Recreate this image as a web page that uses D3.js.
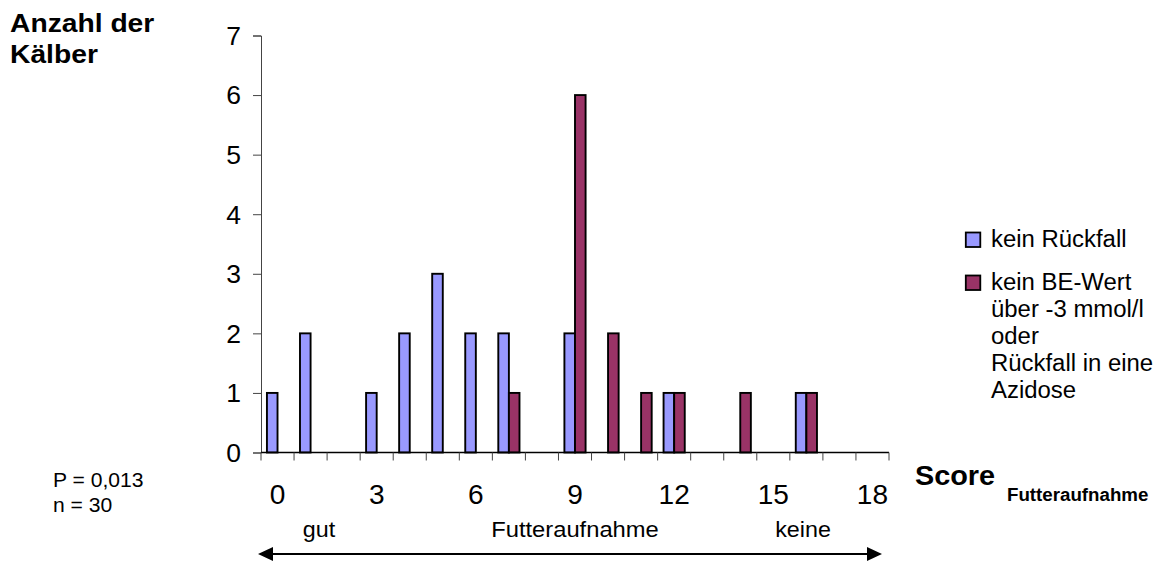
<!DOCTYPE html>
<html><head><meta charset="utf-8">
<script src="https://cdn.jsdelivr.net/npm/d3@7"></script>
<style>body{margin:0;background:#fff;} svg{display:block;font-family:Arial,"Liberation Sans",sans-serif;}</style>
</head><body>
<svg id="c" width="1160" height="562"></svg>
<script>
const categories = d3.range(0, 19); // score 0..18
const xTickLabels = ["0","3","6","9","12","15","18"];
const yTicks = [0,1,2,3,4,5,6,7];
const seriesNames = ["kein Rückfall", "kein BE-Wert\nüber -3 mmol/l\noder\nRückfall in eine\nAzidose"];
const keinRueckfall = [1,2,0,1,2,3,2,2,0,2,0,0,1,0,0,0,1,0,0];
const keinBEWert    = [0,0,0,0,0,0,0,1,0,6,2,1,1,0,1,0,1,0,0];
const colors = ["#9999FF", "#993366"];

const svg = d3.select("#c");
function txt(parent, x, y, s, size, opts = {}) {
  const g = parent.append("g").attr("transform", `translate(${x},${y}) scale(${opts.sx || 1},1)`);
  return g.append("text").attr("x", 0).attr("y", 0)
    .attr("font-size", size).attr("font-weight", opts.weight || "normal")
    .attr("text-anchor", opts.anchor || "start").attr("fill", "#000").text(s);
}

const x = d3.scaleBand().domain(categories).range([261, 889]).padding(0);
const xs = d3.scaleBand().domain([0,1]).range([0, x.bandwidth()]).paddingInner(0).paddingOuter(0.56);
const y = d3.scaleLinear().domain([0, 7]).range([452.5, 35.5]);

// bars
const seriesData = [keinRueckfall, keinBEWert];
seriesData.forEach((vals, si) => {
  svg.append("g").selectAll("rect").data(categories.filter(c => vals[c] > 0)).join("rect")
    .attr("x", c => x(c) + xs(si))
    .attr("y", c => y(vals[c]))
    .attr("width", xs.bandwidth())
    .attr("height", c => y(0) - y(vals[c]))
    .attr("fill", colors[si]).attr("stroke", "#000").attr("stroke-width", 1.9);
});

// y axis
const ya = svg.append("g").attr("transform", `translate(261,0)`)
  .call(d3.axisLeft(y).tickValues(yTicks).tickSize(8).tickFormat(""));
ya.select(".domain").attr("stroke", "#444").attr("stroke-width", 1);
ya.selectAll(".tick line").attr("stroke", "#444");
yTicks.forEach(v => {
  txt(svg, 241, y(v) + 9.3, String(v), 26, {anchor: "end", sx: 1.02});
});

// x axis
const boundaries = d3.range(0, 20).map(i => 261 + i * x.step());
const xg = svg.append("g");
xg.append("line").attr("x1", 261).attr("x2", 889).attr("y1", y(0)).attr("y2", y(0))
  .attr("stroke", "#000").attr("stroke-width", 1.4);
xg.selectAll("line.t").data(boundaries).join("line").attr("class", "t")
  .attr("x1", d => d).attr("x2", d => d).attr("y1", y(0)).attr("y2", y(0) + 8)
  .attr("stroke", "#444").attr("stroke-width", 1);
xTickLabels.forEach(l => {
  const c = +l;
  txt(svg, x(c) + x.bandwidth() / 2, 503.5, l, 27, {anchor: "middle", sx: 1.04});
});

// titles
txt(svg, 10, 31.5, "Anzahl der", 25, {weight: "bold", sx: 1.13});
txt(svg, 10, 63, "Kälber", 25, {weight: "bold", sx: 1.13});
txt(svg, 915, 485, "Score", 28, {weight: "bold", sx: 1.03});
txt(svg, 1007, 500.5, "Futteraufnahme", 18, {weight: "bold", sx: 1.04});

// stats
txt(svg, 53, 487, "P = 0,013", 20.5, {sx: 1.03});
txt(svg, 53, 512, "n = 30", 20.5, {sx: 1.03});

// scale description
txt(svg, 319, 536.5, "gut", 22, {anchor: "middle", sx: 1.06});
txt(svg, 575, 536.5, "Futteraufnahme", 22, {anchor: "middle", sx: 1.08});
txt(svg, 803, 536.5, "keine", 22, {anchor: "middle", sx: 1.06});

// double arrow
const ay = 554;
svg.append("line").attr("x1", 268).attr("x2", 872).attr("y1", ay).attr("y2", ay)
  .attr("stroke", "#000").attr("stroke-width", 2.2);
svg.append("path").attr("d", `M258,${ay} L273,${ay-7} L273,${ay+7} Z`).attr("fill", "#000");
svg.append("path").attr("d", `M882,${ay} L867,${ay-7} L867,${ay+7} Z`).attr("fill", "#000");

// legend
const leg = svg.append("g");
const legBase = [247, 290];
seriesNames.forEach((name, i) => {
  leg.append("rect").attr("x", 965.8).attr("y", legBase[i] - 14.5).attr("width", 14.5).attr("height", 14.5)
    .attr("fill", colors[i]).attr("stroke", "#000").attr("stroke-width", 1.8);
  name.split("\n").forEach((line, j) => {
    txt(leg, 991, legBase[i] + j * 27, line, 23, {sx: 1.04});
  });
});
</script>
</body></html>
